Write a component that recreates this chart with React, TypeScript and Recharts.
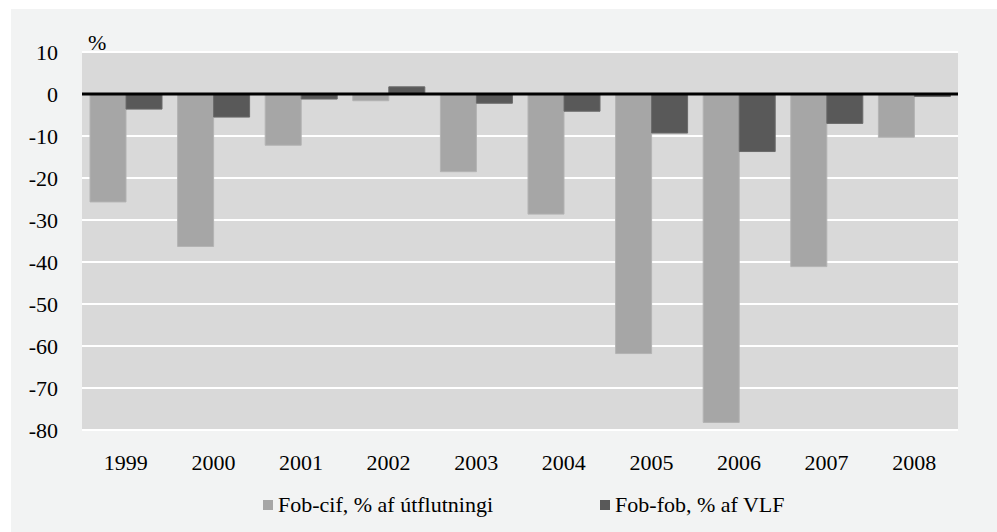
import React from "react";
import {
  BarChart,
  Bar,
  XAxis,
  YAxis,
  CartesianGrid,
  ReferenceLine,
  Legend,
} from "recharts";

const years = ["1999", "2000", "2001", "2002", "2003", "2004", "2005", "2006", "2007", "2008"];
const fobCif = [-25.7, -36.3, -12.2, -1.6, -18.5, -28.6, -61.8, -78.2, -41.1, -10.3];
const fobFob = [-3.6, -5.5, -1.2, 1.7, -2.2, -4.1, -9.3, -13.7, -7.0, -0.6];
const yTicks = [-80, -70, -60, -50, -40, -30, -20, -10, 0, 10];

const seriesNames = {
  cif: "Fob-cif, % af útflutningi",
  fob: "Fob-fob, % af VLF",
};

const data = years.map((year, i) => ({ year, cif: fobCif[i], fob: fobFob[i] }));

const FONT = "Times New Roman, Liberation Serif, DejaVu Serif, serif";
const LIGHT = "#a6a6a6";
const DARK = "#595959";

function LegendBox({ payload }: any) {
  return (
    <div
      style={{
        display: "flex",
        alignItems: "center",
        height: 36,
        paddingLeft: 252,
        fontFamily: FONT,
        fontSize: 22,
        color: "#000",
      }}
    >
      {(payload || []).map((p: any, i: number) => (
        <div key={p.dataKey} style={{ display: "flex", alignItems: "center", marginLeft: i ? 107 : 0 }}>
          <span style={{ width: 10, height: 10, background: p.color, marginRight: 5, display: "inline-block" }} />
          <span>{p.value}</span>
        </div>
      ))}
    </div>
  );
}

export default function App() {
  const tick = { fill: "#000", fontSize: 22, fontFamily: FONT };
  return (
    <div style={{ position: "absolute", left: 0, top: 0, width: 997, height: 532, background: "#fff", fontFamily: FONT }}>
      <div style={{ position: "absolute", left: 11, top: 9, width: 986, height: 523, background: "#f2f3f3" }}>
        <BarChart
          width={986}
          height={523}
          data={data}
          barGap={0}
          margin={{ top: 43, right: 39, left: 0, bottom: 16 }}
          style={{ fontFamily: FONT }}
        >
          <CartesianGrid vertical={false} fill="#d9d9d9" stroke="#ffffff" strokeWidth={2} />
          <XAxis
            dataKey="year"
            axisLine={false}
            tickLine={false}
            tickSize={0}
            tickMargin={24}
            height={50}
            tick={tick}
          />
          <YAxis
            domain={[-80, 10]}
            ticks={yTicks}
            interval={0}
            width={71}
            axisLine={false}
            tickLine={false}
            tickSize={0}
            tickMargin={24}
            tick={tick}
          />
          <Bar dataKey="cif" name={seriesNames.cif} fill={LIGHT} stroke="#b3b3b3" strokeWidth={1} barSize={36} isAnimationActive={false} />
          <Bar dataKey="fob" name={seriesNames.fob} fill={DARK} stroke="#6a6a6a" strokeWidth={1} barSize={36} isAnimationActive={false} />
          <ReferenceLine y={0} stroke="#000" strokeWidth={3} />
          <Legend
            height={40}
            content={<LegendBox />}
            wrapperStyle={{ left: 0, top: 478, width: 986, height: 36 }}
          />
          <text x={77} y={41} fontFamily={FONT} fontSize={22} fill="#000">
            %
          </text>
        </BarChart>
      </div>
    </div>
  );
}
